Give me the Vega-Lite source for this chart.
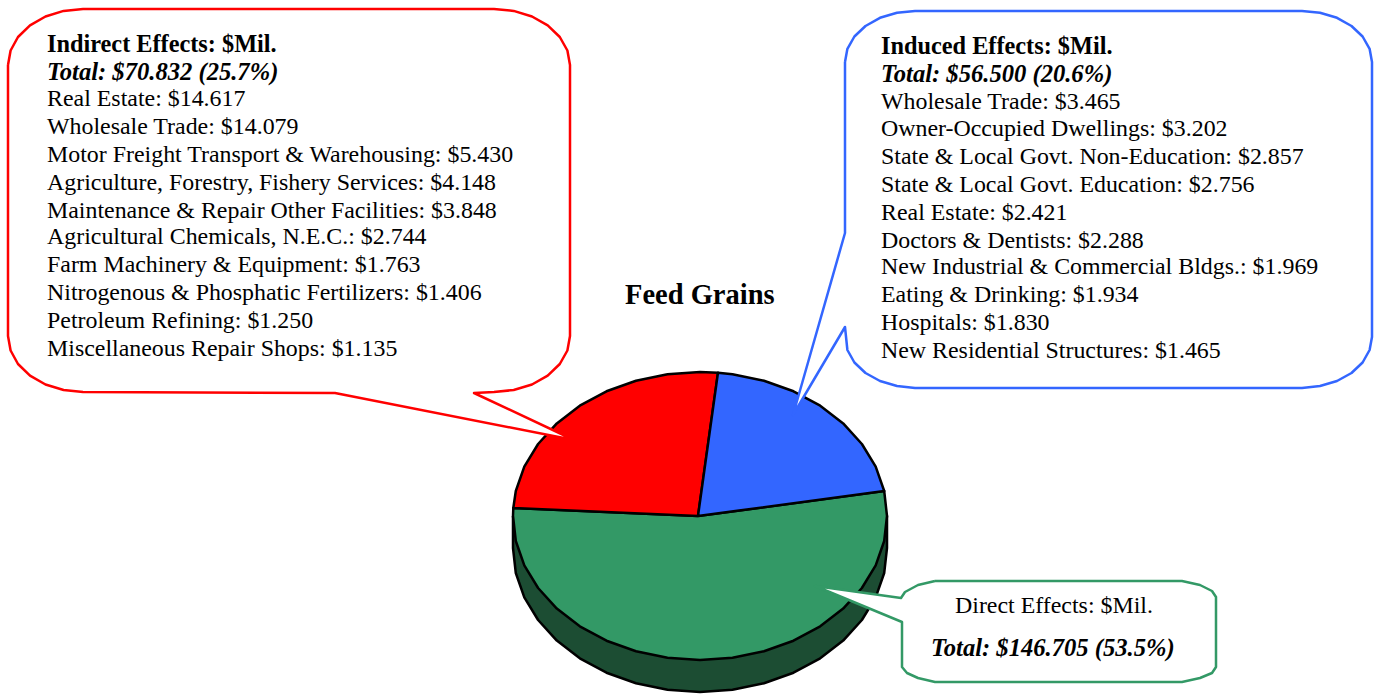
{"$schema":"https://vega.github.io/schema/vega-lite/v6.json","width":1375,"height":694,"padding":0,"autosize":"none","background":"white","config":{"view":{"stroke":null}},
"datasets":{"shapes":[
{"s":"1side","i":0,"x":513,"y":516},{"s":"1side","i":1,"x":513,"y":548},{"s":"1side","i":2,"x":515.8,"y":573},{"s":"1side","i":3,"x":524.3,"y":597.3},{"s":"1side","i":4,"x":538.1,"y":620},{"s":"1side","i":5,"x":556.8,"y":640.6},{"s":"1side","i":6,"x":579.8,"y":658.3},{"s":"1side","i":7,"x":606.5,"y":672.7},{"s":"1side","i":8,"x":636,"y":683.3},{"s":"1side","i":9,"x":667.5,"y":689.8},{"s":"1side","i":10,"x":700,"y":692},{"s":"1side","i":11,"x":732.5,"y":689.8},{"s":"1side","i":12,"x":764,"y":683.3},{"s":"1side","i":13,"x":793.5,"y":672.7},{"s":"1side","i":14,"x":820.2,"y":658.3},{"s":"1side","i":15,"x":843.2,"y":640.6},{"s":"1side","i":16,"x":861.9,"y":620},{"s":"1side","i":17,"x":875.7,"y":597.3},{"s":"1side","i":18,"x":884.2,"y":573},{"s":"1side","i":19,"x":887,"y":548},{"s":"1side","i":20,"x":887,"y":516},{"s":"1side","i":21,"x":513,"y":516},
{"s":"2direct","i":0,"x":698,"y":516},{"s":"2direct","i":1,"x":884.2,"y":491},{"s":"2direct","i":2,"x":887,"y":516},{"s":"2direct","i":3,"x":884.2,"y":541},{"s":"2direct","i":4,"x":875.7,"y":565.3},{"s":"2direct","i":5,"x":861.9,"y":588},{"s":"2direct","i":6,"x":843.2,"y":608.6},{"s":"2direct","i":7,"x":820.2,"y":626.3},{"s":"2direct","i":8,"x":793.5,"y":640.7},{"s":"2direct","i":9,"x":764,"y":651.3},{"s":"2direct","i":10,"x":732.5,"y":657.8},{"s":"2direct","i":11,"x":700,"y":660},{"s":"2direct","i":12,"x":667.5,"y":657.8},{"s":"2direct","i":13,"x":636,"y":651.3},{"s":"2direct","i":14,"x":606.5,"y":640.7},{"s":"2direct","i":15,"x":579.8,"y":626.3},{"s":"2direct","i":16,"x":556.8,"y":608.6},{"s":"2direct","i":17,"x":538.1,"y":588},{"s":"2direct","i":18,"x":524.3,"y":565.3},{"s":"2direct","i":19,"x":515.8,"y":541},{"s":"2direct","i":20,"x":513,"y":516},{"s":"2direct","i":21,"x":513.3,"y":508},{"s":"2direct","i":22,"x":698,"y":516},
{"s":"3indirect","i":0,"x":698,"y":516},{"s":"3indirect","i":1,"x":513.3,"y":508},{"s":"3indirect","i":2,"x":515.8,"y":491},{"s":"3indirect","i":3,"x":524.3,"y":466.7},{"s":"3indirect","i":4,"x":538.1,"y":444},{"s":"3indirect","i":5,"x":556.8,"y":423.4},{"s":"3indirect","i":6,"x":579.8,"y":405.7},{"s":"3indirect","i":7,"x":606.5,"y":391.3},{"s":"3indirect","i":8,"x":636,"y":380.7},{"s":"3indirect","i":9,"x":667.5,"y":374.2},{"s":"3indirect","i":10,"x":700,"y":372},{"s":"3indirect","i":11,"x":718,"y":372.7},{"s":"3indirect","i":12,"x":698,"y":516},
{"s":"4induced","i":0,"x":698,"y":516},{"s":"4induced","i":1,"x":718,"y":372.7},{"s":"4induced","i":2,"x":732.5,"y":374.2},{"s":"4induced","i":3,"x":764,"y":380.7},{"s":"4induced","i":4,"x":793.5,"y":391.3},{"s":"4induced","i":5,"x":820.2,"y":405.7},{"s":"4induced","i":6,"x":843.2,"y":423.4},{"s":"4induced","i":7,"x":861.9,"y":444},{"s":"4induced","i":8,"x":875.7,"y":466.7},{"s":"4induced","i":9,"x":884.2,"y":491},{"s":"4induced","i":10,"x":698,"y":516},
{"s":"5bubbleRed","i":0,"x":8,"y":65},{"s":"5bubbleRed","i":1,"x":10.6,"y":50.5},{"s":"5bubbleRed","i":2,"x":18,"y":37},{"s":"5bubbleRed","i":3,"x":30,"y":25.4},{"s":"5bubbleRed","i":4,"x":45.5,"y":16.5},{"s":"5bubbleRed","i":5,"x":63.6,"y":10.9},{"s":"5bubbleRed","i":6,"x":83,"y":9},{"s":"5bubbleRed","i":7,"x":494,"y":9},{"s":"5bubbleRed","i":8,"x":513.7,"y":10.9},{"s":"5bubbleRed","i":9,"x":532,"y":16.5},{"s":"5bubbleRed","i":10,"x":547.7,"y":25.4},{"s":"5bubbleRed","i":11,"x":559.8,"y":37},{"s":"5bubbleRed","i":12,"x":567.4,"y":50.5},{"s":"5bubbleRed","i":13,"x":570,"y":65},{"s":"5bubbleRed","i":14,"x":570,"y":336},{"s":"5bubbleRed","i":15,"x":567.4,"y":350.5},{"s":"5bubbleRed","i":16,"x":559.8,"y":364},{"s":"5bubbleRed","i":17,"x":547.7,"y":375.6},{"s":"5bubbleRed","i":18,"x":532,"y":384.5},{"s":"5bubbleRed","i":19,"x":513.7,"y":390},{"s":"5bubbleRed","i":20,"x":494,"y":392},{"s":"5bubbleRed","i":21,"x":474,"y":393},{"s":"5bubbleRed","i":22,"x":574,"y":440},{"s":"5bubbleRed","i":23,"x":335,"y":393},{"s":"5bubbleRed","i":24,"x":83,"y":392},{"s":"5bubbleRed","i":25,"x":63.6,"y":390},{"s":"5bubbleRed","i":26,"x":45.5,"y":384.5},{"s":"5bubbleRed","i":27,"x":30,"y":375.6},{"s":"5bubbleRed","i":28,"x":18,"y":364},{"s":"5bubbleRed","i":29,"x":10.6,"y":350.5},{"s":"5bubbleRed","i":30,"x":8,"y":336},{"s":"5bubbleRed","i":31,"x":8,"y":65},
{"s":"6bubbleBlue","i":0,"x":845,"y":62},{"s":"6bubbleBlue","i":1,"x":847.4,"y":48.8},{"s":"6bubbleBlue","i":2,"x":854.4,"y":36.5},{"s":"6bubbleBlue","i":3,"x":865.5,"y":26},{"s":"6bubbleBlue","i":4,"x":880,"y":17.8},{"s":"6bubbleBlue","i":5,"x":897,"y":12.7},{"s":"6bubbleBlue","i":6,"x":915,"y":11},{"s":"6bubbleBlue","i":7,"x":1302,"y":11},{"s":"6bubbleBlue","i":8,"x":1320,"y":12.7},{"s":"6bubbleBlue","i":9,"x":1337,"y":17.8},{"s":"6bubbleBlue","i":10,"x":1351.5,"y":26},{"s":"6bubbleBlue","i":11,"x":1362.6,"y":36.5},{"s":"6bubbleBlue","i":12,"x":1369.6,"y":48.8},{"s":"6bubbleBlue","i":13,"x":1372,"y":62},{"s":"6bubbleBlue","i":14,"x":1372,"y":337},{"s":"6bubbleBlue","i":15,"x":1369.6,"y":350},{"s":"6bubbleBlue","i":16,"x":1362.6,"y":362.5},{"s":"6bubbleBlue","i":17,"x":1351.5,"y":373},{"s":"6bubbleBlue","i":18,"x":1337,"y":381},{"s":"6bubbleBlue","i":19,"x":1320,"y":386},{"s":"6bubbleBlue","i":20,"x":1302,"y":388},{"s":"6bubbleBlue","i":21,"x":915,"y":388},{"s":"6bubbleBlue","i":22,"x":897,"y":386},{"s":"6bubbleBlue","i":23,"x":880,"y":381},{"s":"6bubbleBlue","i":24,"x":865.5,"y":373},{"s":"6bubbleBlue","i":25,"x":854.4,"y":362.5},{"s":"6bubbleBlue","i":26,"x":847.4,"y":350},{"s":"6bubbleBlue","i":27,"x":845,"y":327},{"s":"6bubbleBlue","i":28,"x":793,"y":415},{"s":"6bubbleBlue","i":29,"x":845,"y":233},{"s":"6bubbleBlue","i":30,"x":845,"y":62},
{"s":"7bubbleGreen","i":0,"x":935,"y":581},{"s":"7bubbleGreen","i":1,"x":1182,"y":581},{"s":"7bubbleGreen","i":2,"x":1200,"y":585},{"s":"7bubbleGreen","i":3,"x":1212,"y":591},{"s":"7bubbleGreen","i":4,"x":1216,"y":597},{"s":"7bubbleGreen","i":5,"x":1216,"y":667},{"s":"7bubbleGreen","i":6,"x":1212,"y":673},{"s":"7bubbleGreen","i":7,"x":1200,"y":678},{"s":"7bubbleGreen","i":8,"x":1182,"y":682},{"s":"7bubbleGreen","i":9,"x":935,"y":682},{"s":"7bubbleGreen","i":10,"x":918,"y":678},{"s":"7bubbleGreen","i":11,"x":907,"y":673},{"s":"7bubbleGreen","i":12,"x":902,"y":667},{"s":"7bubbleGreen","i":13,"x":902,"y":622},{"s":"7bubbleGreen","i":14,"x":815,"y":586},{"s":"7bubbleGreen","i":15,"x":901,"y":598},{"s":"7bubbleGreen","i":16,"x":905,"y":592},{"s":"7bubbleGreen","i":17,"x":918,"y":585},{"s":"7bubbleGreen","i":18,"x":935,"y":581}
],
"labels":[
{"t":"Indirect Effects: $Mil.","k":"b","x":47,"y":51.7},
{"t":"Total: $70.832 (25.7%)","k":"bi","x":47,"y":80},
{"t":"Real Estate: $14.617","k":"n","x":47,"y":106},
{"t":"Wholesale Trade: $14.079","k":"n","x":47,"y":134},
{"t":"Motor Freight Transport & Warehousing: $5.430","k":"n","x":47,"y":162},
{"t":"Agriculture, Forestry, Fishery Services: $4.148","k":"n","x":47,"y":190},
{"t":"Maintenance & Repair Other Facilities: $3.848","k":"n","x":47,"y":218},
{"t":"Agricultural Chemicals, N.E.C.: $2.744","k":"n","x":47,"y":244},
{"t":"Farm Machinery & Equipment: $1.763","k":"n","x":47,"y":272},
{"t":"Nitrogenous & Phosphatic Fertilizers: $1.406","k":"n","x":47,"y":300},
{"t":"Petroleum Refining: $1.250","k":"n","x":47,"y":328},
{"t":"Miscellaneous Repair Shops: $1.135","k":"n","x":47,"y":356},
{"t":"Induced Effects: $Mil.","k":"b","x":881,"y":54},
{"t":"Total: $56.500 (20.6%)","k":"bi","x":881,"y":82},
{"t":"Wholesale Trade: $3.465","k":"n","x":881,"y":109},
{"t":"Owner-Occupied Dwellings: $3.202","k":"n","x":881,"y":136},
{"t":"State & Local Govt. Non-Education: $2.857","k":"n","x":881,"y":164},
{"t":"State & Local Govt. Education: $2.756","k":"n","x":881,"y":192},
{"t":"Real Estate: $2.421","k":"n","x":881,"y":220},
{"t":"Doctors & Dentists: $2.288","k":"n","x":881,"y":248},
{"t":"New Industrial & Commercial Bldgs.: $1.969","k":"n","x":881,"y":274},
{"t":"Eating & Drinking: $1.934","k":"n","x":881,"y":302},
{"t":"Hospitals: $1.830","k":"n","x":881,"y":330},
{"t":"New Residential Structures: $1.465","k":"n","x":881,"y":358},
{"t":"Direct Effects: $Mil.","k":"n","x":955,"y":613},
{"t":"Total: $146.705 (53.5%)","k":"bi","x":931,"y":656},
{"t":"Feed Grains","k":"title","x":625,"y":304}
]},
"layer":[
{"data":{"name":"shapes"},"mark":{"type":"line","strokeWidth":2.5,"strokeJoin":"round","interpolate":"linear"},
"encoding":{"x":{"field":"x","type":"quantitative","axis":null,"scale":{"domain":[0,1375],"nice":false}},"y":{"field":"y","type":"quantitative","axis":null,"scale":{"domain":[0,694],"reverse":true,"nice":false}},"order":{"field":"i","type":"quantitative"},"detail":{"field":"s"},
"fill":{"field":"s","type":"nominal","legend":null,"scale":{"domain":["1side","2direct","3indirect","4induced","5bubbleRed","6bubbleBlue","7bubbleGreen"],"range":["#1c4d33","#339966","#ff0000","#3366ff","#ffffff","#ffffff","#ffffff"]}},
"stroke":{"field":"s","type":"nominal","legend":null,"scale":{"domain":["1side","2direct","3indirect","4induced","5bubbleRed","6bubbleBlue","7bubbleGreen"],"range":["#000000","#000000","#000000","#000000","#ff0000","#3366ff","#339966"]}}}},
{"data":{"name":"labels"},"transform":[{"filter":"datum.k==='n'"}],"mark":{"type":"text","font":"Liberation Serif","fontSize":23.9,"align":"left","baseline":"alphabetic","color":"#000"},"encoding":{"x":{"field":"x","type":"quantitative"},"y":{"field":"y","type":"quantitative"},"text":{"field":"t"}}},
{"data":{"name":"labels"},"transform":[{"filter":"datum.k==='b'"}],"mark":{"type":"text","font":"Liberation Serif","fontSize":24.3,"fontWeight":"bold","align":"left","baseline":"alphabetic","color":"#000"},"encoding":{"x":{"field":"x","type":"quantitative"},"y":{"field":"y","type":"quantitative"},"text":{"field":"t"}}},
{"data":{"name":"labels"},"transform":[{"filter":"datum.k==='bi'"}],"mark":{"type":"text","font":"Liberation Serif","fontSize":24.6,"fontWeight":"bold","fontStyle":"italic","align":"left","baseline":"alphabetic","color":"#000"},"encoding":{"x":{"field":"x","type":"quantitative"},"y":{"field":"y","type":"quantitative"},"text":{"field":"t"}}},
{"data":{"name":"labels"},"transform":[{"filter":"datum.k==='title'"}],"mark":{"type":"text","font":"Liberation Serif","fontSize":28.5,"fontWeight":"bold","align":"left","baseline":"alphabetic","color":"#000"},"encoding":{"x":{"field":"x","type":"quantitative"},"y":{"field":"y","type":"quantitative"},"text":{"field":"t"}}}
]}
